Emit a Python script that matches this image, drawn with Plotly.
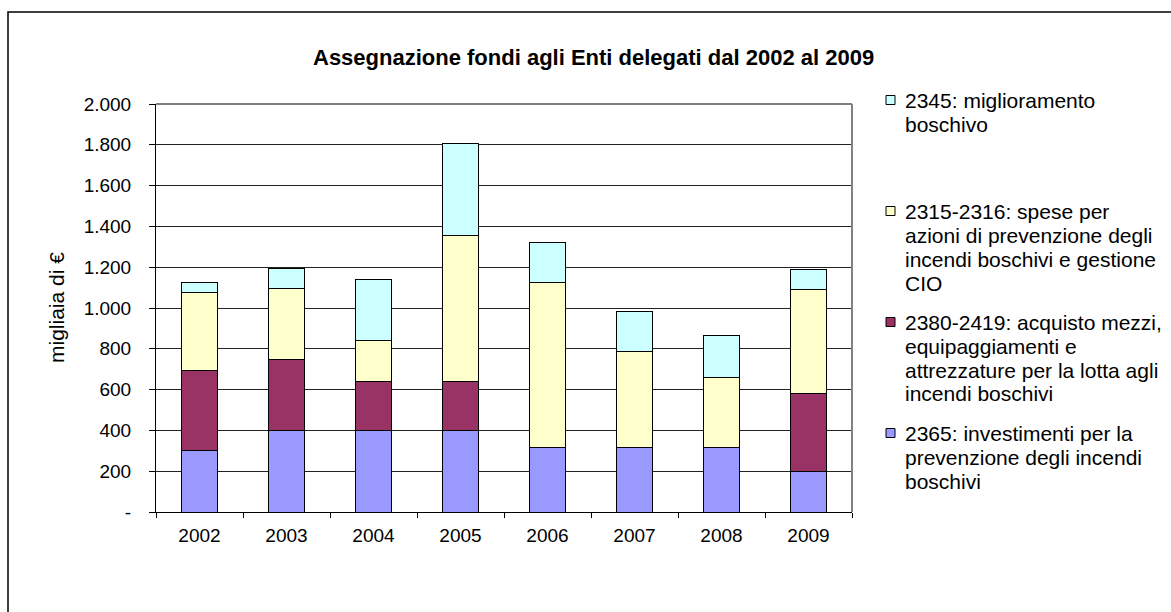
import plotly.graph_objects as go

# Funding by year (thousands of euro), one list per budget chapter
years = ["2002", "2003", "2004", "2005", "2006", "2007", "2008", "2009"]
cap_2365 = [300, 400, 400, 400, 315, 315, 315, 200]
cap_2380_2419 = [395, 350, 240, 240, 0, 0, 0, 380]
cap_2315_2316 = [380, 345, 200, 715, 808, 470, 346, 510]
cap_2345 = [50, 100, 300, 450, 200, 200, 205, 100]

# Legend labels, already wrapped into lines
label_2345 = ["2345: miglioramento", "boschivo"]
label_2315_2316 = ["2315-2316: spese per", "azioni di prevenzione degli",
                   "incendi boschivi e gestione", "CIO"]
label_2380_2419 = ["2380-2419: acquisto mezzi,", "equipaggiamenti e",
                   "attrezzature per la lotta agli", "incendi boschivi"]
label_2365 = ["2365: investimenti per la", "prevenzione degli incendi", "boschivi"]

y_tick_values = [0, 200, 400, 600, 800, 1000, 1200, 1400, 1600, 1800, 2000]
y_tick_text = ["-"] + [f"{v:,}".replace(",", ".") for v in y_tick_values[1:]]

title_text = "Assegnazione fondi agli Enti delegati dal 2002 al 2009"
y_title_text = "migliaia di €"

# Stack order bottom -> top
series = [
    (label_2365, cap_2365, "#9999FF"),
    (label_2380_2419, cap_2380_2419, "#993366"),
    (label_2315_2316, cap_2315_2316, "#FFFFCC"),
    (label_2345, cap_2345, "#CCFFFF"),
]

W, H = 1171, 612
L, R, T, B = 156, 319, 104, 100
PW = W - L - R
PH = H - T - B


def px_x(p):
    return (p - L) / PW


def px_y(p):
    return (H - B - p) / PH


FONT = "Liberation Sans, Arial, sans-serif"

fig = go.Figure()
for lines, values, color in series:
    fig.add_trace(go.Bar(
        x=years, y=values, name=" ".join(lines),
        marker=dict(color=color, line=dict(color="black", width=1)),
        hoverinfo="x+y+name",
    ))

shapes = []
annotations = []

# Outer chart frame
shapes.append(dict(type="rect", xref="paper", yref="paper",
                   x0=px_x(8), x1=px_x(1190), y0=px_y(630), y1=px_y(12),
                   line=dict(color="black", width=1.5), fillcolor="rgba(0,0,0,0)",
                   layer="below"))
# Grey plot-area border on top and right
shapes.append(dict(type="line", xref="paper", yref="paper", x0=0, x1=1, y0=1, y1=1,
                   line=dict(color="#808080", width=2)))
shapes.append(dict(type="line", xref="paper", yref="paper", x0=1, x1=1, y0=0, y1=1,
                   line=dict(color="#808080", width=2)))

# Hand-laid legend: top entry first
legend_order = list(reversed(series))
entry_y0 = 100
entry_step = 111
line_step = 24
marker_x0, marker_x1 = 886, 895
text_x = 903
for i, (lines, _, color) in enumerate(legend_order):
    yc = entry_y0 + i * entry_step
    shapes.append(dict(type="rect", xref="paper", yref="paper",
                       x0=px_x(marker_x0), x1=px_x(marker_x1),
                       y0=px_y(yc + 4.5), y1=px_y(yc - 4.5),
                       fillcolor=color, line=dict(color="black", width=1)))
    for j, line in enumerate(lines):
        annotations.append(dict(
            text=line, xref="paper", yref="paper",
            x=px_x(text_x), y=px_y(yc + j * line_step),
            xanchor="left", yanchor="middle", showarrow=False,
            font=dict(family=FONT, size=21, color="black"),
        ))

# Chart title
annotations.append(dict(
    text=f"<b>{title_text}</b>", xref="paper", yref="paper",
    x=px_x(593), y=px_y(58), xanchor="center", yanchor="middle",
    showarrow=False, font=dict(family=FONT, size=22, color="black"),
))
# Y axis title
annotations.append(dict(
    text=y_title_text, xref="paper", yref="paper",
    x=px_x(56), y=0.5, xanchor="center", yanchor="middle", textangle=-90,
    showarrow=False, font=dict(family=FONT, size=21, color="black"),
))

fig.update_layout(
    width=W, height=H,
    margin=dict(l=L, r=R, t=T, b=B, autoexpand=False),
    barmode="stack", bargap=0.59,
    plot_bgcolor="white", paper_bgcolor="white",
    showlegend=False,
    font=dict(family=FONT, color="black"),
    shapes=shapes, annotations=annotations,
)
fig.update_xaxes(
    type="category", showline=True, linecolor="black", linewidth=1,
    ticks="outside", tickson="boundaries", ticklen=5, tickcolor="black",
    tickfont=dict(family=FONT, size=19, color="black"),
    showgrid=False, zeroline=False, ticklabelstandoff=6,
)
fig.update_yaxes(
    range=[0, 2000], tickvals=y_tick_values, ticktext=y_tick_text,
    showline=True, linecolor="black", linewidth=1,
    ticks="outside", ticklen=6, tickcolor="black",
    tickfont=dict(family=FONT, size=19, color="black"),
    showgrid=True, gridcolor="#222222", gridwidth=1, zeroline=False,
    ticklabelstandoff=14,
)

fig.write_html("out.html")
